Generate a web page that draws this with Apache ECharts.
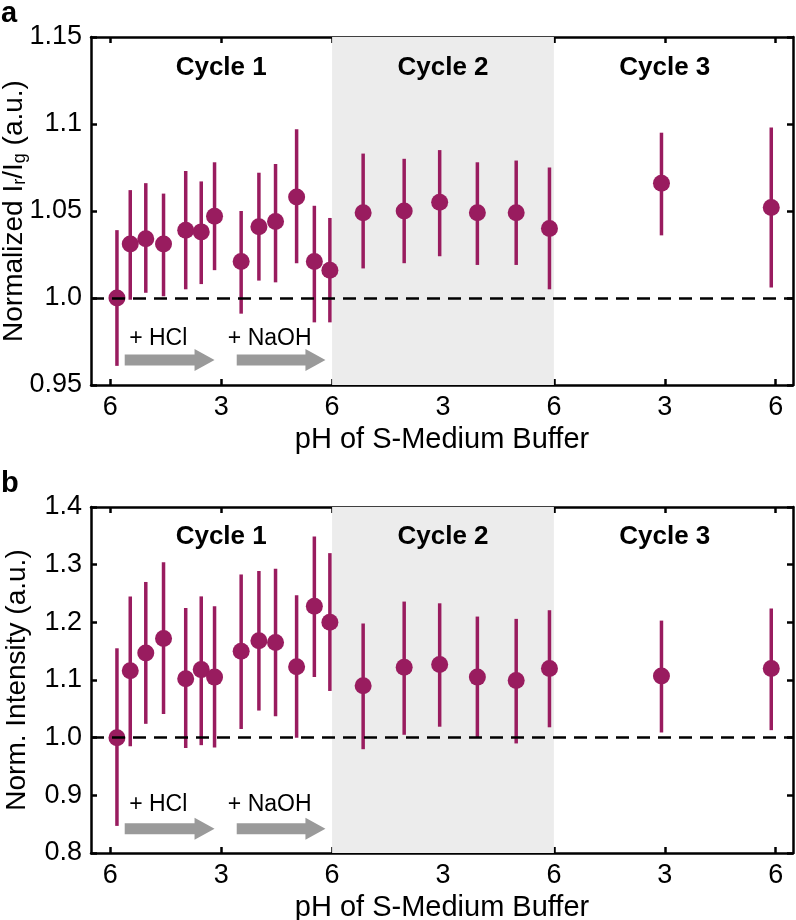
<!DOCTYPE html>
<html><head><meta charset="utf-8">
<script src="https://cdn.jsdelivr.net/npm/echarts@6/dist/echarts.min.js"></script>
<style>html,body{margin:0;padding:0;background:#fff}#c{width:796px;height:920px}</style>
</head><body><div id="c"></div>
<script>
// ---- data ----
const xPos = [0.06,0.18,0.32,0.48,0.68,0.82,0.94,1.18,1.34,1.49,1.68,1.84,1.98,2.28,2.65,2.97,3.31,3.66,3.96,4.97,5.96];
const ratioMean = [1.000,1.031,1.034,1.031,1.039,1.038,1.047,1.021,1.041,1.044,1.058,1.021,1.016,1.049,1.050,1.055,1.049,1.049,1.040,1.066,1.052];
const ratioLow  = [0.961,0.999,1.003,1.001,1.005,1.008,1.016,0.991,1.010,1.009,1.020,0.986,0.986,1.017,1.020,1.024,1.019,1.019,1.005,1.036,1.006];
const ratioHigh = [1.039,1.062,1.066,1.060,1.073,1.067,1.078,1.050,1.072,1.077,1.097,1.053,1.046,1.083,1.080,1.085,1.078,1.079,1.075,1.095,1.098];
const intMean = [1.000,1.116,1.147,1.172,1.102,1.118,1.105,1.150,1.168,1.165,1.123,1.228,1.200,1.090,1.122,1.127,1.105,1.099,1.120,1.107,1.120];
const intLow  = [0.847,0.985,1.024,1.041,0.982,0.987,0.983,1.015,1.047,1.037,1.000,1.105,1.081,0.980,1.005,1.019,1.000,0.990,1.018,1.009,1.013];
const intHigh = [1.155,1.245,1.270,1.304,1.225,1.245,1.228,1.283,1.289,1.293,1.247,1.349,1.320,1.198,1.236,1.233,1.210,1.206,1.221,1.203,1.224];
const xTickValues = [0,1,2,3,4,5,6];
const xTickLabels = ['6','3','6','3','6','3','6'];
const yTickValuesA = [0.95,1.0,1.05,1.1,1.15];
const yTickLabelsA = ['0.95','1.0','1.05','1.1','1.15'];
const yTickValuesB = [0.8,0.9,1.0,1.1,1.2,1.3,1.4];
const yTickLabelsB = ['0.8','0.9','1.0','1.1','1.2','1.3','1.4'];
const cycleLabels = ['Cycle 1','Cycle 2','Cycle 3'];
const cycleCenters = [1,3,5];
const shadedSpan = [2,4];
const baselineValue = 1.0;
const arrowLabels = ['+ HCl','+ NaOH'];
const arrowSpans = [[0.13,0.94],[1.14,1.94]];
const arrowLabelX = [0.17,1.06];
const panelLetters = ['a','b'];
const xTitle = 'pH of S-Medium Buffer';

// ---- styling ----
const FONT = "'Liberation Sans', Arial, Helvetica, sans-serif";
const PURPLE = '#991c5f';
const panels = [
  {mean: ratioMean, low: ratioLow, high: ratioHigh, min: 0.95, max: 1.15, interval: 0.05,
   tv: yTickValuesA, tl: yTickLabelsA, grid: {left: 91, top: 37, right: 3, height: 348}, yGap: 62,
   yName: 'Normalized I{sub|r}/I{sub|g} (a.u.)', cycleY: 1.132, arrowY: 0.9644, labelY: 0.9769},
  {mean: intMean, low: intLow, high: intHigh, min: 0.8, max: 1.4, interval: 0.1,
   tv: yTickValuesB, tl: yTickLabelsB, grid: {left: 91, top: 507, right: 3, height: 346}, yGap: 60,
   yName: 'Norm. Intensity (a.u.)', cycleY: 1.348, arrowY: 0.842, labelY: 0.8845}
];
const XMIN = -0.174, XMAX = 6.156;

const chart = echarts.init(document.getElementById('c'), null, {renderer: 'canvas'});
const grids = [], xAxes = [], yAxes = [], series = [];
const lineSt = {color: '#000', width: 2.5};
panels.forEach((p, i) => {
  grids.push(Object.assign({containLabel: false, outerBoundsMode: 'none'}, p.grid));
  xAxes[i] = {
    type: 'value', gridIndex: i, min: XMIN, max: XMAX, position: 'bottom',
    axisLine: {show: true, onZero: false, lineStyle: lineSt},
    axisTick: {show: true, inside: true, length: 6, customValues: xTickValues, lineStyle: lineSt},
    axisLabel: {show: true, customValues: xTickValues, margin: 9,
      formatter: v => xTickLabels[xTickValues.indexOf(Math.round(v))],
      fontSize: 27, color: '#000', fontFamily: FONT},
    splitLine: {show: false},
    name: xTitle, nameLocation: 'middle', nameGap: 40, nameMoveOverlap: false,
    nameTextStyle: {fontSize: 29, color: '#000', fontFamily: FONT}
  };
  xAxes[i + 2] = {
    type: 'value', gridIndex: i, min: XMIN, max: XMAX, position: 'top',
    axisLine: {show: true, onZero: false, lineStyle: lineSt},
    axisTick: {show: true, inside: true, length: 6, customValues: xTickValues, lineStyle: lineSt},
    axisLabel: {show: false}, splitLine: {show: false}
  };
  yAxes[i] = {
    type: 'value', gridIndex: i, min: p.min, max: p.max, interval: p.interval, position: 'left',
    axisLine: {show: true, onZero: false, lineStyle: lineSt},
    axisTick: {show: true, inside: true, length: 6, lineStyle: lineSt},
    axisLabel: {show: true, margin: 9, fontSize: 27, color: '#000', fontFamily: FONT,
      formatter: v => { const k = p.tv.findIndex(t => Math.abs(t - v) < 1e-6); return k >= 0 ? p.tl[k] : ''; }},
    splitLine: {show: false},
    name: p.yName, nameLocation: 'middle', nameRotate: 90, nameGap: p.yGap, nameMoveOverlap: false,
    nameTextStyle: {fontSize: 28, color: '#000', fontFamily: FONT,
      rich: {sub: {fontSize: 18, fontFamily: FONT, color: '#000', verticalAlign: 'bottom', padding: [12, 0, 0, 0]}}}
  };
  yAxes[i + 2] = {
    type: 'value', gridIndex: i, min: p.min, max: p.max, interval: p.interval, position: 'right',
    axisLine: {show: true, onZero: false, lineStyle: lineSt},
    axisTick: {show: true, inside: true, length: 6, lineStyle: lineSt},
    axisLabel: {show: false}, splitLine: {show: false}
  };
  // shaded cycle 2 region
  series.push({
    type: 'line', xAxisIndex: i, yAxisIndex: i, data: [], z: 1, silent: true,
    markArea: {silent: true, itemStyle: {color: '#ececec'},
      data: [[{xAxis: shadedSpan[0]}, {xAxis: shadedSpan[1]}]]}
  });
  // error bars
  series.push({
    type: 'custom', xAxisIndex: i, yAxisIndex: i, z: 3, silent: true,
    data: xPos.map((x, k) => [x, p.low[k], p.high[k]]),
    encode: {x: 0, y: [1, 2]},
    renderItem: (params, api) => {
      const a = api.coord([api.value(0), api.value(1)]);
      const b = api.coord([api.value(0), api.value(2)]);
      return {type: 'line', shape: {x1: a[0], y1: a[1], x2: b[0], y2: b[1]},
        style: {stroke: PURPLE, lineWidth: 3.5}};
    }
  });
  // points
  series.push({
    type: 'scatter', xAxisIndex: i, yAxisIndex: i, z: 4, silent: true,
    symbol: 'circle', symbolSize: 17, itemStyle: {color: PURPLE, opacity: 1},
    data: xPos.map((x, k) => [x, p.mean[k]])
  });
  // dashed baseline
  series.push({
    type: 'line', xAxisIndex: i, yAxisIndex: i, data: [], z: 5, silent: true,
    markLine: {silent: true, symbol: ['none', 'none'], label: {show: false},
      lineStyle: {color: '#000', width: 2.5, type: [13, 8]},
      data: [{yAxis: baselineValue}]}
  });
});

chart.setOption({
  animation: false, backgroundColor: '#fff',
  grid: grids, xAxis: xAxes, yAxis: yAxes, series: series
});

// annotations placed in data coordinates
const graphics = [];
panels.forEach((p, i) => {
  const toPx = (x, y) => chart.convertToPixel({xAxisIndex: i, yAxisIndex: i}, [x, y]);
  cycleLabels.forEach((t, k) => {
    const c = toPx(cycleCenters[k], p.cycleY);
    graphics.push({type: 'text', x: c[0], y: c[1], z: 10,
      style: {text: t, fontSize: 26, fontWeight: 'bold', fill: '#000', fontFamily: FONT,
        align: 'center', verticalAlign: 'middle'}});
  });
  arrowSpans.forEach((s, k) => {
    const a = toPx(s[0], p.arrowY), b = toPx(s[1], p.arrowY);
    const x0 = a[0], x1 = b[0], yc = a[1], hl = 20, bh = 5.5, hh = 11;
    graphics.push({type: 'polygon', z: 10, shape: {points: [
      [x0, yc - bh], [x1 - hl, yc - bh], [x1 - hl, yc - hh], [x1, yc],
      [x1 - hl, yc + hh], [x1 - hl, yc + bh], [x0, yc + bh]]},
      style: {fill: '#9a9a9a'}});
    const l = toPx(arrowLabelX[k], p.labelY);
    graphics.push({type: 'text', x: l[0], y: l[1], z: 10,
      style: {text: arrowLabels[k], fontSize: 23, fill: '#000', fontFamily: FONT,
        align: 'left', verticalAlign: 'middle'}});
  });
  graphics.push({type: 'text', x: 1, y: p.grid.top - 38, z: 10,
    style: {text: panelLetters[i], fontSize: 29, fontWeight: 'bold', fill: '#000', fontFamily: FONT,
      align: 'left', verticalAlign: 'top'}});
});
chart.setOption({graphic: graphics});
</script>
</body></html>
